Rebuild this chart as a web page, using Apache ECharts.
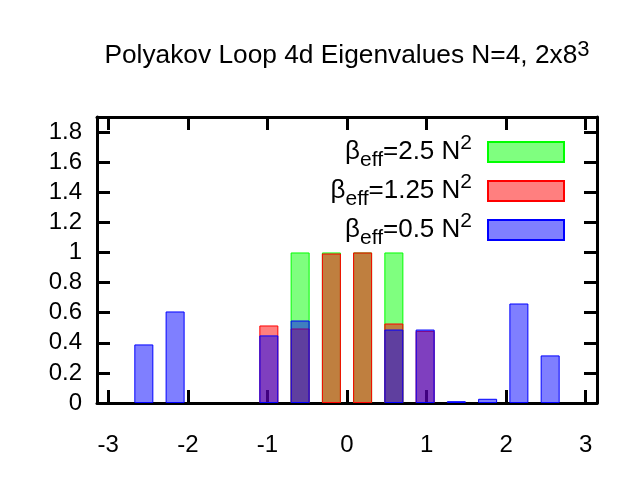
<!DOCTYPE html>
<html>
<head>
<meta charset="utf-8">
<script src="https://cdn.jsdelivr.net/npm/echarts@6/dist/echarts.min.js"></script>
<style>
  html, body { margin: 0; padding: 0; background: #fff; }
  #main { width: 640px; height: 480px; }
</style>
</head>
<body>
<div id="main"></div>
<script>
var myChart = echarts.init(document.getElementById('main'));

// histogram bins: 16 bins over [-pi, pi]
var binCenters = [-2.945, -2.553, -2.160, -1.767, -1.374, -0.982, -0.589, -0.196,
                  0.196, 0.589, 0.982, 1.374, 1.767, 2.160, 2.553, 2.945];

var beta25 = [null, null, null, null, null, null, 1.0, 1.0,
              1.0, 1.0, null, null, null, null, null, null];
var beta125 = [null, null, null, null, null, 0.515, 0.495, 0.993,
               1.0, 0.528, 0.479, null, null, null, null, null];
var beta05 = [null, 0.389, 0.608, null, null, 0.449, 0.548, null,
              null, 0.488, 0.488, 0.012, 0.028, 0.661, 0.316, null];

var seriesNames = ['2.5', '1.25', '0.5'];
var xTicks = [-3, -2, -1, 0, 1, 2, 3];
var yTicks = [0, 0.2, 0.4, 0.6, 0.8, 1, 1.2, 1.4, 1.6, 1.8];

var font = 'Liberation Sans';

function pairs(vals) {
    var res = [];
    for (var i = 0; i < vals.length; i++) {
        res.push([binCenters[i], vals[i]]);
    }
    return res;
}

function barSeries(name, vals, fill, stroke) {
    return {
        name: name,
        type: 'bar',
        data: pairs(vals),
        barWidth: 19,
        barGap: '-100%',
        itemStyle: {
            color: fill,
            borderColor: stroke,
            borderWidth: 1
        },
        emphasis: { disabled: true },
        animation: false
    };
}

var axisLine = { show: true, onZero: false, lineStyle: { color: '#000', width: 3 } };

option = {
    backgroundColor: '#fff',
    title: {
        text: '{m|Polyakov Loop 4d Eigenvalues N=4, 2x8}{p|3}',
        left: 347,
        top: 39,
        padding: 0,
        textAlign: 'center',
        textStyle: {
            fontFamily: font,
            fontWeight: 'normal',
            rich: {
                m: { fontFamily: font, fontSize: 26.3, color: '#000', lineHeight: 34 },
                p: { fontFamily: font, fontSize: 22, color: '#000', lineHeight: 21, verticalAlign: 'top' }
            }
        }
    },
    legend: {
        orient: 'vertical',
        right: 75,
        top: 133,
        padding: 0,
        align: 'right',
        icon: 'rect',
        itemWidth: 76,
        itemHeight: 20,
        itemGap: 1,
        selectedMode: false,
        formatter: function (name) {
            return '{b|β}{s|eff}{m|=' + name + ' N}{p|2}';
        },
        textStyle: {
            fontFamily: font,
            color: '#000',
            rich: {
                b: { fontFamily: font, fontSize: 26, color: '#000', lineHeight: 38 },
                m: { fontFamily: font, fontSize: 26, color: '#000', lineHeight: 38 },
                s: { fontFamily: font, fontSize: 21, color: '#000', lineHeight: 21, verticalAlign: 'bottom' },
                p: { fontFamily: font, fontSize: 21, color: '#000', lineHeight: 21, verticalAlign: 'top', padding: [0, 11, 0, 0] }
            }
        }
    },
    grid: {
        left: 97,
        right: 43,
        top: 117,
        bottom: 77
    },
    xAxis: [{
        type: 'value',
        min: -Math.PI,
        max: Math.PI,
        axisLine: axisLine,
        splitLine: { show: false },
        axisTick: { inside: true, length: 13, customValues: xTicks, lineStyle: { color: '#000', width: 3 } },
        axisLabel: {
            customValues: xTicks,
            margin: 30,
            fontFamily: font,
            fontSize: 24,
            color: '#000'
        }
    }, {
        type: 'value',
        position: 'top',
        min: -Math.PI,
        max: Math.PI,
        axisLine: axisLine,
        splitLine: { show: false },
        axisTick: { inside: true, length: 13, customValues: xTicks, lineStyle: { color: '#000', width: 3 } },
        axisLabel: { show: false }
    }],
    yAxis: [{
        type: 'value',
        min: 0,
        max: 1.9,
        axisLine: axisLine,
        splitLine: { show: false },
        axisTick: { inside: true, length: 13, customValues: yTicks, lineStyle: { color: '#000', width: 3 } },
        axisLabel: {
            customValues: yTicks,
            margin: 15,
            fontFamily: font,
            fontSize: 24,
            color: '#000'
        }
    }, {
        type: 'value',
        position: 'right',
        min: 0,
        max: 1.9,
        axisLine: axisLine,
        splitLine: { show: false },
        axisTick: { inside: true, length: 13, customValues: yTicks, lineStyle: { color: '#000', width: 3 } },
        axisLabel: { show: false }
    }],
    series: [
        barSeries(seriesNames[0], beta25, 'rgba(0,255,0,0.5)', '#00ff00'),
        barSeries(seriesNames[1], beta125, 'rgba(255,0,0,0.5)', '#ff0000'),
        barSeries(seriesNames[2], beta05, 'rgba(0,0,255,0.5)', '#0000ff')
    ]
};

myChart.setOption(option);
</script>
</body>
</html>
